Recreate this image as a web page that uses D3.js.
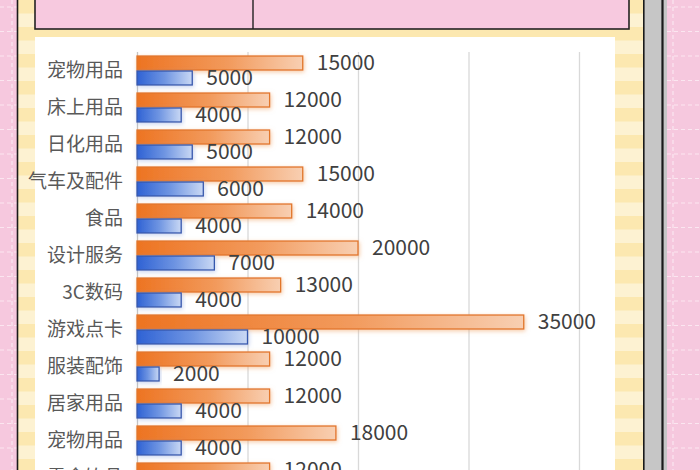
<!DOCTYPE html>
<html>
<head>
<meta charset="utf-8">
<script src="https://cdn.jsdelivr.net/npm/d3@7"></script>
<style>
  html, body { margin: 0; padding: 0; background: #f6c8de; overflow: hidden; }
  svg { display: block; }
</style>
</head>
<body>
<svg id="chart"></svg>
<script>
// data
const categories = ["宠物用品", "床上用品", "日化用品", "气车及配件", "食品", "设计服务",
  "3C数码", "游戏点卡", "服装配饰", "居家用品", "宠物用品 ", "零食饮品"];
const orangeValues = [15000, 12000, 12000, 15000, 14000, 20000, 13000, 35000, 12000, 12000, 18000, 12000];
const blueValues = [5000, 4000, 5000, 6000, 4000, 7000, 4000, 10000, 2000, 4000, 4000, 4000];
const xTicks = [0, 10000, 20000, 30000, 40000];

const width = 700;
const height = 470;

const svg = d3.select("#chart").attr("width", width).attr("height", height);

const defs = svg.append("defs");

const og = defs.append("linearGradient").attr("id", "orangeGrad");
og.append("stop").attr("offset", "0%").attr("stop-color", "#ed7422");
og.append("stop").attr("offset", "55%").attr("stop-color", "#f29a5c");
og.append("stop").attr("offset", "100%").attr("stop-color", "#f8cfb2");

const bg = defs.append("linearGradient").attr("id", "blueGrad");
bg.append("stop").attr("offset", "0%").attr("stop-color", "#2f62d4");
bg.append("stop").attr("offset", "50%").attr("stop-color", "#6f95e2");
bg.append("stop").attr("offset", "100%").attr("stop-color", "#c9d8f4");

const glowO = defs.append("filter").attr("id", "glowO")
  .attr("x", "-10%").attr("y", "-60%").attr("width", "120%").attr("height", "220%");
glowO.append("feDropShadow").attr("dx", 1).attr("dy", 1.5).attr("stdDeviation", 2)
  .attr("flood-color", "#f0a060").attr("flood-opacity", 0.55);

const glowB = defs.append("filter").attr("id", "glowB")
  .attr("x", "-10%").attr("y", "-60%").attr("width", "120%").attr("height", "220%");
glowB.append("feDropShadow").attr("dx", 1).attr("dy", 1.5).attr("stdDeviation", 2)
  .attr("flood-color", "#90a8e0").attr("flood-opacity", 0.5);

// page decoration: pink paper, yellow frame, grey spine
svg.append("rect").attr("width", width).attr("height", height).attr("fill", "#f6c8de");

const dash = svg.append("g").attr("stroke", "#fbe6f0").attr("stroke-width", 1.2)
  .attr("stroke-dasharray", "4,3");
d3.range(7, height, 24.5).forEach((y) => {
  dash.append("line").attr("x1", 0).attr("x2", 17).attr("y1", y).attr("y2", y);
  dash.append("line").attr("x1", 667).attr("x2", width).attr("y1", y).attr("y2", y);
});
dash.append("line").attr("x1", 12).attr("x2", 12).attr("y1", 0).attr("y2", height);
dash.append("line").attr("x1", 673).attr("x2", 673).attr("y1", 0).attr("y2", height);

svg.append("rect").attr("x", 18).attr("y", 0).attr("width", 625).attr("height", height)
  .attr("fill", "#fdf2d2");
d3.range(0, height, 27).forEach((y) => {
  svg.append("rect").attr("x", 18).attr("y", y).attr("width", 625).attr("height", 13.5)
    .attr("fill", "#fce8b0");
});

svg.append("line").attr("x1", 17.5).attr("x2", 17.5).attr("y1", 0).attr("y2", height)
  .attr("stroke", "#1a1a1a").attr("stroke-width", 1.6);
svg.append("rect").attr("x", 643).attr("y", 0).attr("width", 24).attr("height", height)
  .attr("fill", "#c6c6c6");
svg.append("line").attr("x1", 643.8).attr("x2", 643.8).attr("y1", 0).attr("y2", height)
  .attr("stroke", "#1a1a1a").attr("stroke-width", 1.6);
svg.append("line").attr("x1", 662.5).attr("x2", 662.5).attr("y1", 0).attr("y2", height)
  .attr("stroke", "#1a1a1a").attr("stroke-width", 2.2);

// header box
svg.append("rect").attr("x", 35).attr("y", -5).attr("width", 594).attr("height", 34)
  .attr("fill", "#f7c9df").attr("stroke", "#222").attr("stroke-width", 1.6);
svg.append("line").attr("x1", 253).attr("x2", 253).attr("y1", 0).attr("y2", 29)
  .attr("stroke", "#222").attr("stroke-width", 1.4);

// white chart panel
svg.append("rect").attr("x", 35).attr("y", 37).attr("width", 580).attr("height", height)
  .attr("fill", "#ffffff");

// scales
const x = d3.scaleLinear().domain([0, 40000]).range([137, 579]);
const y = d3.scaleBand().domain(d3.range(categories.length))
  .range([52, 52 + 37 * categories.length]).paddingInner(0.19).paddingOuter(0.095);
const sub = d3.scaleBand().domain(["orange", "blue"]).range([0, y.bandwidth()]);

// gridlines
const xAxis = d3.axisBottom(x).tickValues(xTicks).tickSize(height).tickFormat("");
const gx = svg.append("g").attr("transform", "translate(0,52)").call(xAxis);
gx.select(".domain").remove();
gx.selectAll(".tick line").attr("stroke", "#d9d9d9").attr("stroke-width", 1.3);
gx.selectAll(".tick").filter((d) => d === 0).select("line").attr("stroke", "#c4c4c4");

// category labels
const yAxis = d3.axisLeft(y).tickSize(0).tickPadding(0).tickFormat((i) => categories[i].trim());
const gy = svg.append("g").attr("transform", "translate(123,0)").call(yAxis);
gy.select(".domain").remove();
gy.selectAll("text").attr("fill", "#595959")
  .style("font-family", "'Noto Sans CJK SC', sans-serif").style("font-size", "19px");

const rows = categories.map((c, i) => ({ i, orange: orangeValues[i], blue: blueValues[i] }));

const groups = svg.append("g").selectAll("g").data(rows).join("g")
  .attr("transform", (d) => "translate(0," + y(d.i) + ")");

groups.append("rect")
  .attr("x", x(0))
  .attr("y", sub("orange") + 0.5)
  .attr("width", (d) => x(d.orange) - x(0))
  .attr("height", sub.bandwidth() - 1)
  .attr("fill", "url(#orangeGrad)")
  .attr("stroke", "#e2762c").attr("stroke-width", 1.3)
  .attr("filter", "url(#glowO)");

groups.append("rect")
  .attr("x", x(0))
  .attr("y", sub("blue") + 0.5)
  .attr("width", (d) => x(d.blue) - x(0))
  .attr("height", sub.bandwidth() - 1)
  .attr("fill", "url(#blueGrad)")
  .attr("stroke", "#3658ad").attr("stroke-width", 1.3)
  .attr("filter", "url(#glowB)");

const labelFont = "'Noto Sans CJK SC', sans-serif";

groups.append("text")
  .attr("x", (d) => x(d.orange) + 14)
  .attr("y", sub("orange") + sub.bandwidth() / 2)
  .attr("dy", "0.35em")
  .attr("fill", "#404040")
  .style("font-family", labelFont).style("font-size", "21px")
  .text((d) => d.orange);

groups.append("text")
  .attr("x", (d) => x(d.blue) + 14)
  .attr("y", sub("blue") + sub.bandwidth() / 2)
  .attr("dy", "0.35em")
  .attr("fill", "#404040")
  .style("font-family", labelFont).style("font-size", "21px")
  .text((d) => d.blue);
</script>
</body>
</html>
